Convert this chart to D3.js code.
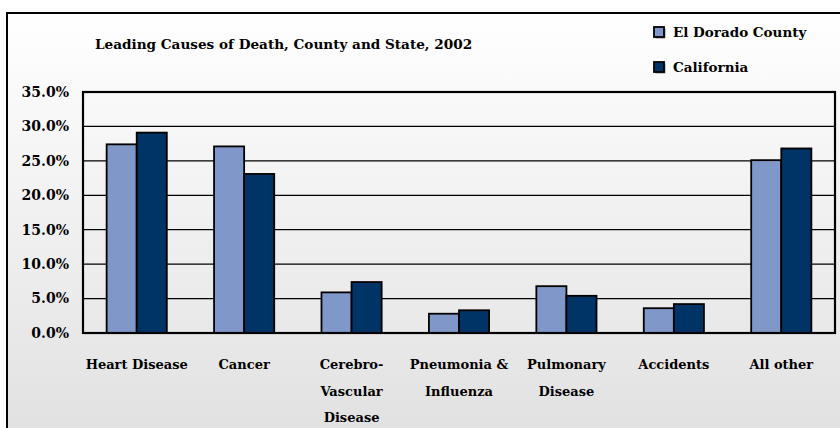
<!DOCTYPE html>
<html>
<head>
<meta charset="utf-8">
<script src="https://cdn.jsdelivr.net/npm/d3@7"></script>
<style>
  html, body { margin: 0; padding: 0; overflow: hidden; background: #ffffff; }
  svg { display: block; }
</style>
</head>
<body>
<div id="chart"></div>
<script>
// Chart data
var categories = [
  ['Heart Disease'],
  ['Cancer'],
  ['Cerebro-', 'Vascular', 'Disease'],
  ['Pneumonia &', 'Influenza'],
  ['Pulmonary', 'Disease'],
  ['Accidents'],
  ['All other']
];
var seriesNames = ['El Dorado County', 'California'];
var countyValues = [27.4, 27.1, 5.9, 2.8, 6.8, 3.6, 25.1];
var stateValues = [29.1, 23.1, 7.4, 3.3, 5.4, 4.2, 26.8];
var yTicks = [0, 5, 10, 15, 20, 25, 30, 35];
var colors = ['#7f97c9', '#003366'];

var outerWidth = 840;
var outerHeight = 428;
var margin = {top: 92, right: 5, bottom: 95, left: 83};
var innerWidth = outerWidth - margin.left - margin.right;
var innerHeight = outerHeight - margin.top - margin.bottom;
var fontFamily = "'DejaVu Serif', serif";

var svg = d3.select('#chart').append('svg')
  .attr('width', outerWidth)
  .attr('height', outerHeight)
  .style('font-family', fontFamily)
  .style('font-weight', 'bold');

// Background gradient
var grad = svg.append('defs').append('linearGradient')
  .attr('id', 'bg').attr('x1', 0).attr('y1', 0).attr('x2', 0).attr('y2', 1);
grad.append('stop').attr('offset', '0%').attr('stop-color', '#ffffff');
grad.append('stop').attr('offset', '100%').attr('stop-color', '#e0e0e0');

svg.append('rect')
  .attr('x', 7).attr('y', 13)
  .attr('width', outerWidth + 10).attr('height', outerHeight + 10)
  .attr('fill', 'url(#bg)')
  .attr('stroke', '#000').attr('stroke-width', 2);

// Scales in page coordinates
var x0 = d3.scaleBand().domain(d3.range(categories.length))
  .range([margin.left, margin.left + innerWidth]);
var x1 = d3.scaleBand().domain([0, 1]).range([x0.bandwidth() * 0.22, x0.bandwidth() * 0.78]);
var y = d3.scaleLinear().domain([0, 35]).range([margin.top + innerHeight, margin.top]);

// Gridlines
svg.append('g').selectAll('line')
  .data(yTicks.slice(1, -1))
  .enter().append('line')
  .attr('x1', margin.left).attr('x2', margin.left + innerWidth)
  .attr('y1', function(d) { return y(d); })
  .attr('y2', function(d) { return y(d); })
  .attr('stroke', '#000').attr('stroke-width', 1.2);

// Y axis labels (right aligned by measuring each label)
svg.append('g').selectAll('text')
  .data(yTicks)
  .enter().append('text')
  .attr('y', function(d) { return y(d); })
  .attr('dy', '0.35em')
  .style('font-size', '14px')
  .text(function(d) { return d.toFixed(1) + '%'; })
  .attr('x', function() { return margin.left - 14 - this.getComputedTextLength(); });

// Bars
var bars = [];
categories.forEach(function(c, i) {
  bars.push({cat: i, s: 0, v: countyValues[i]});
  bars.push({cat: i, s: 1, v: stateValues[i]});
});
svg.append('g').selectAll('rect')
  .data(bars)
  .enter().append('rect')
  .attr('x', function(d) { return x0(d.cat) + x1(d.s); })
  .attr('y', function(d) { return y(d.v); })
  .attr('width', x1.bandwidth())
  .attr('height', function(d) { return y(0) - y(d.v); })
  .attr('fill', function(d) { return colors[d.s]; })
  .attr('stroke', '#000').attr('stroke-width', 1.8);

// Plot frame
svg.append('rect')
  .attr('x', margin.left).attr('y', margin.top)
  .attr('width', innerWidth).attr('height', innerHeight)
  .attr('fill', 'none')
  .attr('stroke', '#000').attr('stroke-width', 2.2);

// Category labels, one text per line, centred by measuring
var labelRows = [];
categories.forEach(function(lines, i) {
  lines.forEach(function(t, k) { labelRows.push({cat: i, line: k, text: t}); });
});
svg.append('g').selectAll('text')
  .data(labelRows)
  .enter().append('text')
  .style('font-size', '13px')
  .attr('y', function(d) { return y(0) + 36 + d.line * 26.5; })
  .text(function(d) { return d.text; })
  .attr('x', function(d) {
    return x0(d.cat) + x0.bandwidth() / 2 - this.getComputedTextLength() / 2;
  });

// Title
svg.append('text')
  .attr('x', 95).attr('y', 49)
  .style('font-size', '13.6px')
  .text('Leading Causes of Death, County and State, 2002');

// Legend
var legend = svg.selectAll('.legend')
  .data(seriesNames)
  .enter().append('g')
  .attr('class', 'legend');
legend.append('rect')
  .attr('x', 655.5).attr('y', function(d, i) { return 28.5 + i * 35; })
  .attr('width', 10).attr('height', 10)
  .attr('fill', '#909090');
legend.append('rect')
  .attr('x', 654).attr('y', function(d, i) { return 27 + i * 35; })
  .attr('width', 10).attr('height', 10)
  .attr('fill', function(d, i) { return colors[i]; })
  .attr('stroke', '#000').attr('stroke-width', 1.8);
legend.append('text')
  .attr('x', 673).attr('y', function(d, i) { return 32 + i * 35; })
  .attr('dy', '0.35em')
  .style('font-size', '13.5px')
  .text(function(d) { return d; });
</script>
</body>
</html>
